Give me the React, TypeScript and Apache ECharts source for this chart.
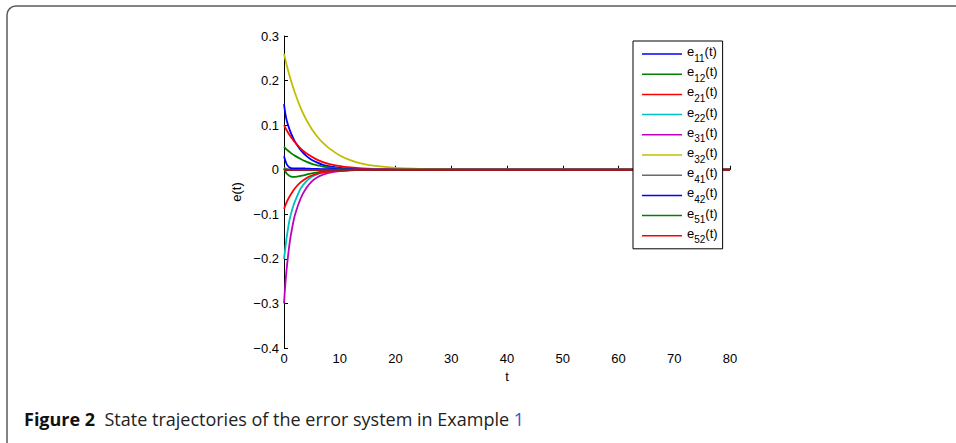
import React, { useEffect, useRef } from "react";
import * as echarts from "echarts";

const T = [0, 0.25, 0.5, 1, 1.5, 2, 3, 4, 5, 6, 7, 8, 10, 12, 14, 16, 20, 25, 30, 40, 50, 60, 70, 80];

const e11 = [0.147, 0.125, 0.110, 0.090, 0.075, 0.062, 0.044, 0.031, 0.022, 0.016, 0.011, 0.008, 0.004, 0.002, 0.001, 0.0005, 0.0001, 0, 0, 0, 0, 0, 0, 0];
const e12 = [0.052, 0.048, 0.045, 0.040, 0.035, 0.031, 0.024, 0.018, 0.013, 0.010, 0.007, 0.005, 0.003, 0.0015, 0.0008, 0.0004, 0.0001, 0, 0, 0, 0, 0, 0, 0];
const e21 = [0.100, 0.094, 0.088, 0.078, 0.069, 0.061, 0.047, 0.037, 0.029, 0.022, 0.017, 0.013, 0.008, 0.005, 0.003, 0.0018, 0.0006, 0.0002, 0, 0, 0, 0, 0, 0];
const e22 = [-0.200, -0.175, -0.150, -0.112, -0.088, -0.070, -0.042, -0.026, -0.016, -0.010, -0.006, -0.004, -0.0016, -0.0007, -0.0003, -0.0001, 0, 0, 0, 0, 0, 0, 0, 0];
const e31 = [-0.300, -0.255, -0.220, -0.165, -0.128, -0.100, -0.064, -0.041, -0.026, -0.017, -0.011, -0.007, -0.003, -0.0012, -0.0005, -0.0002, -0.0001, 0, 0, 0, 0, 0, 0, 0];
const e32 = [0.260, 0.247, 0.234, 0.211, 0.190, 0.171, 0.138, 0.112, 0.091, 0.074, 0.060, 0.049, 0.032, 0.021, 0.0137, 0.009, 0.0039, 0.0014, 0.0005, 0.0001, 0, 0, 0, 0];
const e41 = [0.004, 0.003, 0.002, 0.001, 0.0005, 0.0003, 0.0001, 0, 0, 0, 0, 0, 0, 0, 0, 0, 0, 0, 0, 0, 0, 0, 0, 0];
const e42 = [0.030, 0.020, 0.012, 0.005, 0.003, 0.003, 0.003, 0.0025, 0.002, 0.0017, 0.0014, 0.0012, 0.0008, 0.0005, 0.0003, 0.0002, 0.0001, 0, 0, 0, 0, 0, 0, 0];
const e51 = [0.003, -0.004, -0.009, -0.014, -0.016, -0.016, -0.014, -0.011, -0.008, -0.006, -0.0045, -0.0033, -0.0018, -0.001, -0.0005, -0.0003, -0.0001, 0, 0, 0, 0, 0, 0, 0];
const e52 = [-0.088, -0.080, -0.072, -0.060, -0.050, -0.041, -0.028, -0.019, -0.013, -0.009, -0.006, -0.004, -0.002, -0.001, -0.0005, -0.0002, -0.0001, 0, 0, 0, 0, 0, 0, 0];

const seriesNames = ["e11(t)", "e12(t)", "e21(t)", "e22(t)", "e31(t)", "e32(t)", "e41(t)", "e42(t)", "e51(t)", "e52(t)"];
const seriesValues = [e11, e12, e21, e22, e31, e32, e41, e42, e51, e52];
const seriesColors = ["#0000ff", "#008000", "#ff0000", "#00bfbf", "#bf00bf", "#bfbf00", "#6b6b6b", "#0000ff", "#008000", "#ff0000"];

const captionBold = "Figure 2";
const captionText = "State trajectories of the error system in Example ";
const captionRef = "1";

const FONT = "Liberation Sans, Arial, Helvetica, sans-serif";

export default function App() {
  const ref = useRef<HTMLDivElement>(null);
  useEffect(() => {
    if (!ref.current) return;
    const chart = echarts.init(ref.current, undefined, { renderer: "svg" });
    const series: any[] = seriesNames.map((name, i) => ({
      name,
      type: "line",
      data: T.map((t, k) => [t, seriesValues[i][k]]),
      showSymbol: false,
      symbol: "none",
      smooth: 0.3,
      lineStyle: { width: 1.8, color: seriesColors[i] },
      itemStyle: { color: seriesColors[i] },
      z: 2 + i * 0.01,
    }));
    series[series.length - 1].markLine = {
      silent: true,
      symbol: "none",
      label: { show: false },
      lineStyle: { color: "#9b1c1c", width: 2, type: "solid" },
      data: [{ yAxis: 0 }],
    };
    const option: any = {
      animation: false,
      backgroundColor: "#ffffff",
      grid: { left: 284, right: 226, top: 36, bottom: 95, containLabel: false },
      xAxis: {
        type: "value",
        min: 0,
        max: 80,
        interval: 10,
        name: "t",
        nameLocation: "middle",
        nameGap: 22,
        nameTextStyle: { color: "#000", fontFamily: FONT, fontSize: 13 },
        axisLine: { show: true, lineStyle: { color: "#000", width: 1 } },
        axisTick: { show: true, inside: true, length: 4, lineStyle: { color: "#000" } },
        axisLabel: { color: "#000", fontFamily: FONT, fontSize: 13, margin: 4 },
        splitLine: { show: false },
      },
      yAxis: {
        type: "value",
        min: -0.4,
        max: 0.3,
        interval: 0.1,
        name: "e(t)",
        nameLocation: "middle",
        nameRotate: 90,
        nameGap: 41,
        nameTextStyle: { color: "#000", fontFamily: FONT, fontSize: 13 },
        axisLine: { show: true, onZero: false, lineStyle: { color: "#000", width: 1 } },
        axisTick: { show: true, inside: true, length: 4, lineStyle: { color: "#000" } },
        axisLabel: {
          color: "#000",
          fontFamily: FONT,
          fontSize: 13,
          margin: 5,
          formatter: (v: number) => {
            if (Math.abs(v) < 1e-9) return "0";
            const s = v.toFixed(1);
            return s.replace("-", "\u2212");
          },
        },
        splitLine: { show: false },
      },
      legend: {
        orient: "vertical",
        left: 633,
        top: 41,
        z: 20,
        padding: [4, 5, 4, 9],
        itemGap: 2.2,
        itemWidth: 40,
        itemHeight: 14,
        icon: "path://M0,6L40,6L40,7.5L0,7.5Z",
        backgroundColor: "#ffffff",
        borderColor: "#000000",
        borderWidth: 1,
        data: seriesNames,
        formatter: (name: string) => {
          const m = name.match(/^e(\d+)\(t\)$/);
          if (!m) return name;
          return "{b|e}{s|" + m[1] + "}{b|(t)}";
        },
        textStyle: {
          color: "#000",
          fontFamily: FONT,
          fontSize: 13,
          lineHeight: 18,
          rich: {
            b: { fontSize: 13, lineHeight: 18, verticalAlign: "top", fontFamily: FONT, color: "#000" },
            s: { fontSize: 10, lineHeight: 10, verticalAlign: "bottom", fontFamily: FONT, color: "#000" },
          },
        },
      },
      graphic: [
        { type: "line", shape: { x1: 16, y1: 6, x2: 956, y2: 6 }, style: { stroke: "#5a5a5a", lineWidth: 1.5 }, silent: true },
        { type: "line", shape: { x1: 7, y1: 15, x2: 7, y2: 443 }, style: { stroke: "#5a5a5a", lineWidth: 1.5 }, silent: true },
        { type: "arc", shape: { cx: 16, cy: 15, r: 9, startAngle: Math.PI, endAngle: Math.PI * 1.5 }, style: { stroke: "#5a5a5a", lineWidth: 1.5, fill: "none" }, silent: true },
        {
          type: "text",
          left: 24,
          top: 410,
          silent: true,
          style: {
            text: "{bold|" + captionBold + "}{sp|  }{reg|" + captionText + "}{ref|" + captionRef + "}",
            rich: {
              bold: { fontFamily: "Open Sans", fontWeight: "bold", fontSize: 18, fill: "#111" },
              sp: { fontFamily: "Open Sans", fontSize: 18, fill: "#111" },
              reg: { fontFamily: "Open Sans", fontSize: 18, fill: "#222" },
              ref: { fontFamily: "Open Sans", fontSize: 18, fill: "#3355cc" },
            },
          },
        },
      ],
      series,
    };
    chart.setOption(option);
    return () => chart.dispose();
  }, []);
  return <div ref={ref} style={{ position: "absolute", left: 0, top: 0, width: 956, height: 443 }} />;
}
